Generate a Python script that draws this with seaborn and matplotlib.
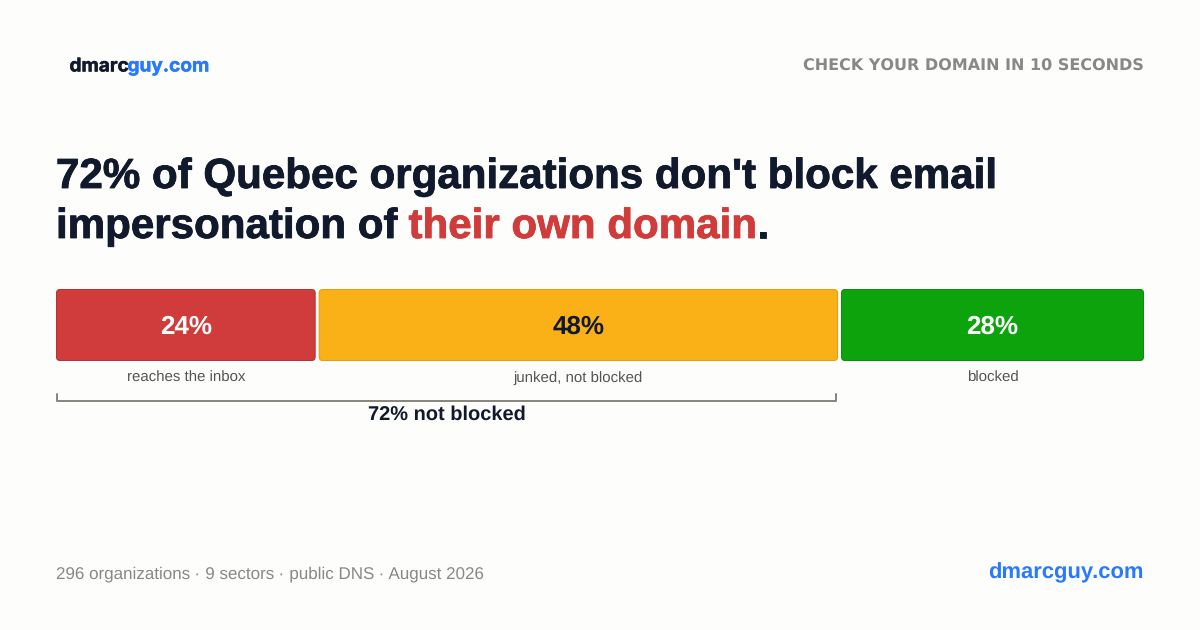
import matplotlib
matplotlib.use("Agg")
import matplotlib.pyplot as plt
import matplotlib.patheffects as pe
import seaborn as sns
import pandas as pd
from matplotlib.patches import FancyBboxPatch
from matplotlib.transforms import IdentityTransform, blended_transform_factory

categories = ["reaches the inbox", "junked, not blocked", "blocked"]
values = [24, 48, 28]
bar_colors = ["#D03B3B", "#FAB118", "#0DA30D"]
edge_colors = ["#B93232", "#E39D12", "#0B8C0B"]
value_colors = ["#FFFFFF", "#111A2C", "#FFFFFF"]
not_blocked_label = "72% not blocked"

W, H = 1200, 630
BG = "#FDFDFB"
DARK = "#111A2C"
RED = "#D03B3B"
BLUE = "#2979FF"
FONT = "Liberation Sans"

sns.set_theme(style="white", rc={"font.family": FONT, "text.hinting": "no_hinting", "text.hinting_factor": 1})
fig = plt.figure(figsize=(W / 100, H / 100), dpi=100, facecolor=BG)

def fx(px):
    return px / W
def fy(py):
    return 1 - py / H
def pt(px):
    return px * 0.72

def label(x, y, s, size, color, ha="left", va="baseline", weight="normal", family=FONT, stroke=0):
    t = fig.text(fx(x), fy(y), s, fontsize=pt(size), color=color, ha=ha, va=va,
                 fontweight=weight, family=family)
    if stroke:
        t.set_path_effects([pe.withStroke(linewidth=stroke, foreground=color)])
    return t

# bar band: 56..1144 px wide, 289..361 px tall
L, R, T, B = 56, 1144, 289, 361
ax = fig.add_axes([fx(L), fy(B), (R - L) / W, (B - T) / H])
ax.set_facecolor("none")
GAP_PX = 3
scale = (R - L - 2 * GAP_PX) / sum(values)
gap = GAP_PX / scale

df = pd.DataFrame({"category": categories, "value": values})
left = 0
for i, row in df.iterrows():
    sns.barplot(data=df.iloc[[i]], x="value", y=[0], left=left, orient="h", width=1,
                color=bar_colors[i], saturation=1, ax=ax, native_scale=True, linewidth=0)
    left += row["value"] + gap
ax.set_xlim(0, sum(values) + 2 * gap)
ax.set_ylim(0.5, -0.5)
ax.axis("off")
fig.canvas.draw()

for i, bar in enumerate(list(ax.patches)):
    bar.set_edgecolor("none")
    (x0, y0), (x1, y1) = ax.transData.transform(
        [(bar.get_x(), bar.get_y()), (bar.get_x() + bar.get_width(), bar.get_y() + bar.get_height())])
    y0, y1 = sorted((y0, y1))
    r = 4
    inset = 0.5
    outline = FancyBboxPatch((x0 + r, y0 + r), x1 - x0 - 2 * r, y1 - y0 - 2 * r,
                             boxstyle=f"round,pad={r - inset},rounding_size={r - inset}",
                             transform=IdentityTransform(), fc="none",
                             ec=edge_colors[i], lw=0.72, clip_on=False, zorder=5)
    ax.add_patch(outline)
    bar.set_clip_path(outline)
    xc = (x0 + x1) / 2
    label(xc, 334, f"{values[i]}%", 26, value_colors[i], ha="center", weight="bold")
    label(xc, 382, categories[i], 15, "#555555", ha="center")

# bracket under the not-blocked share
tr = blended_transform_factory(ax.transData, fig.transFigure)
x_end = values[0] + values[1] + gap
ax.plot([0.1, 0.1, x_end - 0.2, x_end - 0.2], [fy(394), fy(401), fy(401), fy(394)],
        transform=tr, color="#888880", lw=1.44, clip_on=False, solid_joinstyle="round")
label(446.5, 420, not_blocked_label, 20, DARK, ha="center", weight="bold")

# header
label(69.5, 71.5, "dmarc", 19, DARK, weight="bold", family="Inter", stroke=0.3)
label(127.5, 71.5, "guy.com", 19, BLUE, weight="bold", family="Inter", stroke=0.3)
label(1144, 70.5, "CHECK YOUR DOMAIN IN 10 SECONDS", 15.6, "#888888", ha="right", weight="bold", family="DejaVu Sans")

# title
TS = 42.1
label(56, 188, "72% of Quebec organizations don't block email", TS, DARK, weight="bold", stroke=0.6)
label(56, 238, "impersonation of", TS, DARK, weight="bold", stroke=0.6)
label(408.5, 238, "their own domain", TS, RED, weight="bold", stroke=0.6)
label(757.5, 238, ".", TS, DARK, weight="bold", stroke=0.6)

# footer
label(56, 578, "296 organizations · 9 sectors · public DNS · August 2026", 17, "#888888")
label(1144, 578, "dmarcguy.com", 22, BLUE, ha="right", weight="bold")

fig.savefig("out.png", dpi=100, facecolor=BG)
